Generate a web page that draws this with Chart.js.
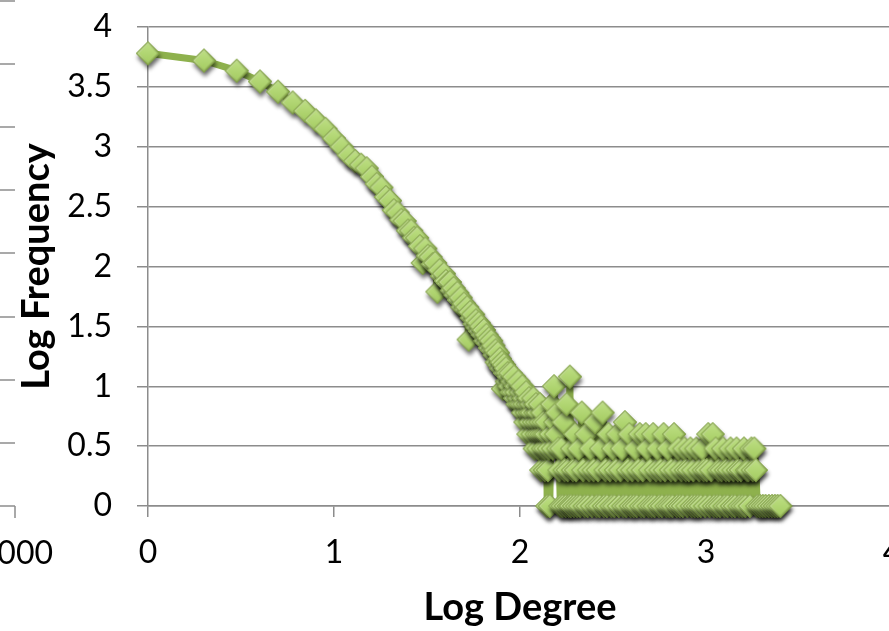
<!DOCTYPE html>
<html>
<head>
<meta charset="utf-8">
<script src="https://cdn.jsdelivr.net/npm/chart.js@4.4.0/dist/chart.umd.min.js"></script>
<style>
  html, body { margin: 0; padding: 0; background: #fff; overflow: hidden; }
  #wrap { position: absolute; left: 0; top: 0; width: 980px; height: 631px; }
</style>
</head>
<body>
<div id="wrap"><canvas id="degreeChart" width="980" height="631"></canvas></div>
<script>
// log10(degree) and log10(frequency), low degrees
const headDegree = [0, 0.301, 0.477, 0.602, 0.699, 0.778, 0.845, 0.903, 0.954, 1.0,
                    1.041, 1.079, 1.114, 1.146, 1.176];
const headFreq = [3.78, 3.72, 3.635, 3.545, 3.46, 3.37, 3.30, 3.22, 3.15, 3.07,
                  3.00, 2.93, 2.88, 2.85, 2.82];

// middle of the curve, degrees 16..100
const bodyDegree = [1.204, 1.230, 1.255, 1.279, 1.301, 1.322, 1.342, 1.362, 1.380, 1.398,
                    1.415, 1.431, 1.447, 1.462, 1.477, 1.491, 1.505, 1.519, 1.531, 1.544,
                    1.556, 1.568, 1.580, 1.591, 1.602, 1.613, 1.623, 1.633, 1.643, 1.653,
                    1.663, 1.672, 1.681, 1.690, 1.699, 1.708, 1.716, 1.724, 1.732, 1.740,
                    1.748, 1.756, 1.763, 1.771, 1.778, 1.785, 1.792, 1.799, 1.806, 1.813,
                    1.820, 1.826, 1.833, 1.839, 1.845, 1.851, 1.857, 1.863, 1.869, 1.875,
                    1.881, 1.886, 1.892, 1.898, 1.903, 1.908, 1.914, 1.919, 1.924, 1.929,
                    1.934, 1.940, 1.944, 1.949, 1.954, 1.959, 1.964, 1.968, 1.973, 1.978,
                    1.982, 1.987, 1.991, 1.996, 2.000];
const bodyFreq = [2.75, 2.69, 2.66, 2.58, 2.55, 2.47, 2.45, 2.39, 2.38, 2.30,
                  2.30, 2.24, 2.24, 2.17, 2.03, 2.15, 2.09, 2.08, 2.02, 2.03,
                  1.79, 1.97, 1.92, 1.94, 1.88, 1.86, 1.87, 1.80, 1.82, 1.76,
                  1.78, 1.72, 1.74, 1.66, 1.69, 1.64, 1.66, 1.39, 1.62, 1.57,
                  1.60, 1.52, 1.55, 1.49, 1.53, 1.46, 1.50, 1.43, 1.47, 1.38,
                  1.43, 1.36, 1.40, 1.32, 1.38, 1.30, 1.34, 1.26, 1.30, 1.20,
                  1.28, 1.18, 1.23, 1.15, 1.20, 0.98, 1.18, 1.11, 1.15, 1.04,
                  1.11, 1.08, 1.00, 1.11, 0.95, 1.04, 0.95, 1.08, 0.90, 1.00,
                  0.95, 0.85, 1.04, 0.90, 0.85];

// where counts fall to a handful
const edgeDegree = [2.004, 2.009, 2.013, 2.017, 2.021, 2.025, 2.029, 2.033, 2.037, 2.041,
                    2.045, 2.049, 2.053, 2.057, 2.061, 2.064, 2.068, 2.072, 2.076, 2.079,
                    2.083, 2.086, 2.090, 2.093, 2.097, 2.100, 2.104, 2.107, 2.111, 2.114,
                    2.117, 2.121, 2.124, 2.127, 2.130, 2.134, 2.137, 2.140, 2.143, 2.146,
                    2.150, 2.156, 2.160, 2.166, 2.172, 2.178, 2.183, 2.189, 2.194, 2.200,
                    2.206, 2.212, 2.217, 2.223, 2.229, 2.234, 2.240, 2.246, 2.251, 2.257,
                    2.263, 2.268, 2.274, 2.280, 2.285, 2.291, 2.297, 2.302];
const edgeFreq = [0.95, 0.85, 1.00, 0.78, 0.90, 0.85, 0.70, 0.95, 0.78, 0.85,
                  0.60, 0.90, 0.78, 0.70, 0.85, 0.78, 0.60, 0.90, 0.70, 0.48,
                  0.78, 0.85, 0.60, 0.70, 0.78, 0.48, 0.60, 0.85, 0.70, 0.30,
                  0.60, 0.78, 0.48, 0.70, 0.60, 0.30, 0.48, 0.60, 0.70, 0,
                  0.30, 0.48, 0, 0.60, 0.85, 0.48, 1.00, 0.70, 0.60, 0.78,
                  0.48, 0.30, 0, 0.48, 0, 0.70, 0.30, 0, 0.85, 0.30,
                  0, 1.08, 0, 0.48, 0.30, 0, 0.60, 0.30];

// long tail: mostly degrees seen once or twice
const tailDegree = [2.308, 2.316, 2.324, 2.332, 2.340, 2.348, 2.356, 2.364, 2.372, 2.380,
                    2.388, 2.396, 2.404, 2.412, 2.420, 2.428, 2.436, 2.444, 2.452, 2.460,
                    2.468, 2.476, 2.484, 2.492, 2.500, 2.508, 2.516, 2.524, 2.532, 2.540,
                    2.548, 2.556, 2.564, 2.572, 2.580, 2.588, 2.596, 2.604, 2.612, 2.620,
                    2.628, 2.636, 2.644, 2.652, 2.660, 2.668, 2.676, 2.684, 2.692, 2.700,
                    2.708, 2.716, 2.724, 2.732, 2.740, 2.748, 2.756, 2.764, 2.772, 2.780,
                    2.788, 2.796, 2.804, 2.812, 2.820, 2.828, 2.836, 2.844, 2.852, 2.860,
                    2.868, 2.876, 2.884, 2.892, 2.900, 2.908, 2.916, 2.924, 2.932, 2.940,
                    2.948, 2.956, 2.964, 2.972, 2.980, 2.988, 2.996, 3.004, 3.012, 3.020,
                    3.028, 3.036, 3.044, 3.052, 3.060, 3.068, 3.076, 3.084, 3.092, 3.100,
                    3.108, 3.116, 3.124, 3.132, 3.140, 3.148, 3.156, 3.164, 3.172, 3.180,
                    3.188, 3.196, 3.204, 3.212, 3.220, 3.228, 3.236, 3.244, 3.252, 3.260,
                    3.268, 3.276,
                    3.290, 3.305, 3.320, 3.338, 3.355, 3.370, 3.385, 3.400];
const tailFreq = [0, 0.48, 0, 0.78, 0.30, 0, 0.60, 0, 0.30, 0.48,
                  0, 0.30, 0.70, 0, 0.30, 0, 0.48, 0.78, 0, 0.30,
                  0, 0.60, 0.30, 0, 0.48, 0, 0.30, 0.60, 0, 0.30,
                  0.48, 0, 0.70, 0, 0.30, 0.60, 0, 0.30, 0, 0.48,
                  0, 0.30, 0.60, 0, 0.30, 0, 0.60, 0.48, 0, 0.30,
                  0, 0.60, 0, 0.30, 0.48, 0, 0.30, 0, 0.60, 0.30,
                  0, 0.48, 0, 0.30, 0, 0.60, 0.30, 0, 0.48, 0,
                  0.30, 0, 0.48, 0.30, 0, 0.30, 0.48, 0, 0.30, 0,
                  0.48, 0, 0.30, 0, 0.48, 0.30, 0, 0.30, 0.60, 0,
                  0.30, 0.60, 0, 0.48, 0, 0.30, 0, 0.30, 0.48, 0,
                  0.30, 0, 0.30, 0.48, 0, 0.30, 0, 0.48, 0.30, 0,
                  0.30, 0, 0.48, 0, 0.30, 0.30, 0, 0.48, 0.30, 0.48,
                  0.30, 0,
                  0, 0, 0, 0, 0, 0, 0, 0];

const xTicks = [0, 1, 2, 3, 4];
const yTicks = [0, 0.5, 1, 1.5, 2, 2.5, 3, 3.5, 4];

const logDegree = [...headDegree, ...bodyDegree, ...edgeDegree, ...tailDegree];
const logFrequency = [...headFreq, ...bodyFreq, ...edgeFreq, ...tailFreq];
const points = [];
for (let i = 0; i < Math.min(logDegree.length, logFrequency.length); i++) {
    points.push({ x: logDegree[i], y: logFrequency[i] });
}

// bevelled green diamond with a drop shadow, used as the marker image
function makeDiamond(r) {
    const pad = 9;
    const size = 2 * r + 2 * pad;
    const c = document.createElement('canvas');
    c.width = size;
    c.height = size;
    const g = c.getContext('2d');
    const cx = size / 2, cy = size / 2;
    const path = (k) => {
        g.beginPath();
        g.moveTo(cx, cy - k);
        g.lineTo(cx + k, cy);
        g.lineTo(cx, cy + k);
        g.lineTo(cx - k, cy);
        g.closePath();
    };
    g.save();
    g.shadowColor = 'rgba(0, 0, 0, 0.6)';
    g.shadowBlur = 4;
    g.shadowOffsetX = 1;
    g.shadowOffsetY = 4;
    path(r);
    g.fillStyle = '#86a948';
    g.fill();
    g.restore();

    let grad = g.createLinearGradient(cx - r, cy - r, cx + r, cy + r);
    grad.addColorStop(0, '#d9f0b0');
    grad.addColorStop(1, '#7b9e3b');
    path(r);
    g.fillStyle = grad;
    g.fill();

    grad = g.createLinearGradient(cx, cy - r, cx, cy + r);
    grad.addColorStop(0, '#c0e187');
    grad.addColorStop(1, '#a2ca5e');
    path(r - 3);
    g.fillStyle = grad;
    g.fill();

    path(r - 0.5);
    g.strokeStyle = 'rgba(112, 142, 52, 0.9)';
    g.lineWidth = 1;
    g.stroke();
    return c;
}

// edge of the neighbouring chart that sits to the left
const neighbourEdge = {
    id: 'neighbourEdge',
    afterDraw(chart) {
        const ctx = chart.ctx;
        ctx.save();
        ctx.strokeStyle = '#8c8c8c';
        ctx.lineWidth = 1.5;
        [1, 64, 127, 190, 253, 317, 380, 443, 506].forEach(function(y) {
            ctx.beginPath();
            ctx.moveTo(0, y);
            ctx.lineTo(15, y);
            ctx.stroke();
        });
        ctx.beginPath();
        ctx.moveTo(15, 506);
        ctx.lineTo(15, 518);
        ctx.stroke();
        ctx.fillStyle = '#000';
        ctx.font = '32px Lato';
        ctx.textAlign = 'right';
        ctx.textBaseline = 'middle';
        ctx.fillText('1000', 53, 554);
        ctx.restore();
    }
};

const gridGrey = '#8c8c8c';
const ctx = document.getElementById('degreeChart').getContext('2d');
const degreeChart = new Chart(ctx, {
    type: 'scatter',
    data: {
        datasets: [{
            label: 'Degree distribution',
            data: points,
            showLine: true,
            borderColor: '#8eb14d',
            borderWidth: 7,
            borderJoinStyle: 'round',
            tension: 0,
            pointStyle: makeDiamond(12),
            pointRadius: 12,
            clip: false
        }]
    },
    options: {
        responsive: false,
        animation: false,
        events: [],
        layout: { padding: { top: 27, right: 88, left: 0, bottom: 0 } },
        plugins: {
            legend: { display: false },
            tooltip: { enabled: false }
        },
        scales: {
            x: {
                type: 'linear',
                min: 0,
                max: 4,
                afterBuildTicks: function(scale) {
                    scale.ticks = xTicks.map(v => ({ value: v }));
                },
                afterFit: function(scale) { scale.height = 125; },
                ticks: {
                    color: '#000',
                    font: { family: 'Lato', size: 32 },
                    padding: 16,
                    maxRotation: 0,
                    callback: v => String(v)
                },
                grid: {
                    drawOnChartArea: false,
                    color: gridGrey,
                    lineWidth: 1.5,
                    tickLength: 11
                },
                border: { color: gridGrey, width: 1.5 },
                title: {
                    display: true,
                    text: 'Log Degree',
                    color: '#000',
                    font: { family: 'Lato', size: 38, weight: 'bold' },
                    padding: 0
                }
            },
            y: {
                type: 'linear',
                min: 0,
                max: 4,
                afterBuildTicks: function(scale) {
                    scale.ticks = yTicks.map(v => ({ value: v }));
                },
                afterFit: function(scale) {
                    scale.width = 148;
                    // label overhang is covered by the layout padding
                    scale.paddingTop = 0;
                    scale.paddingBottom = 0;
                },
                ticks: {
                    color: '#000',
                    font: { family: 'Lato', size: 32 },
                    padding: 25,
                    callback: v => String(v)
                },
                grid: {
                    color: gridGrey,
                    lineWidth: 1.5,
                    tickLength: 11
                },
                border: { color: gridGrey, width: 1.5 },
                title: {
                    display: true,
                    text: 'Log Frequency',
                    color: '#000',
                    font: { family: 'Lato', size: 38, weight: 'bold' },
                    padding: { top: 14, bottom: 0 }
                }
            }
        }
    },
    plugins: [neighbourEdge]
});
</script>
</body>
</html>
